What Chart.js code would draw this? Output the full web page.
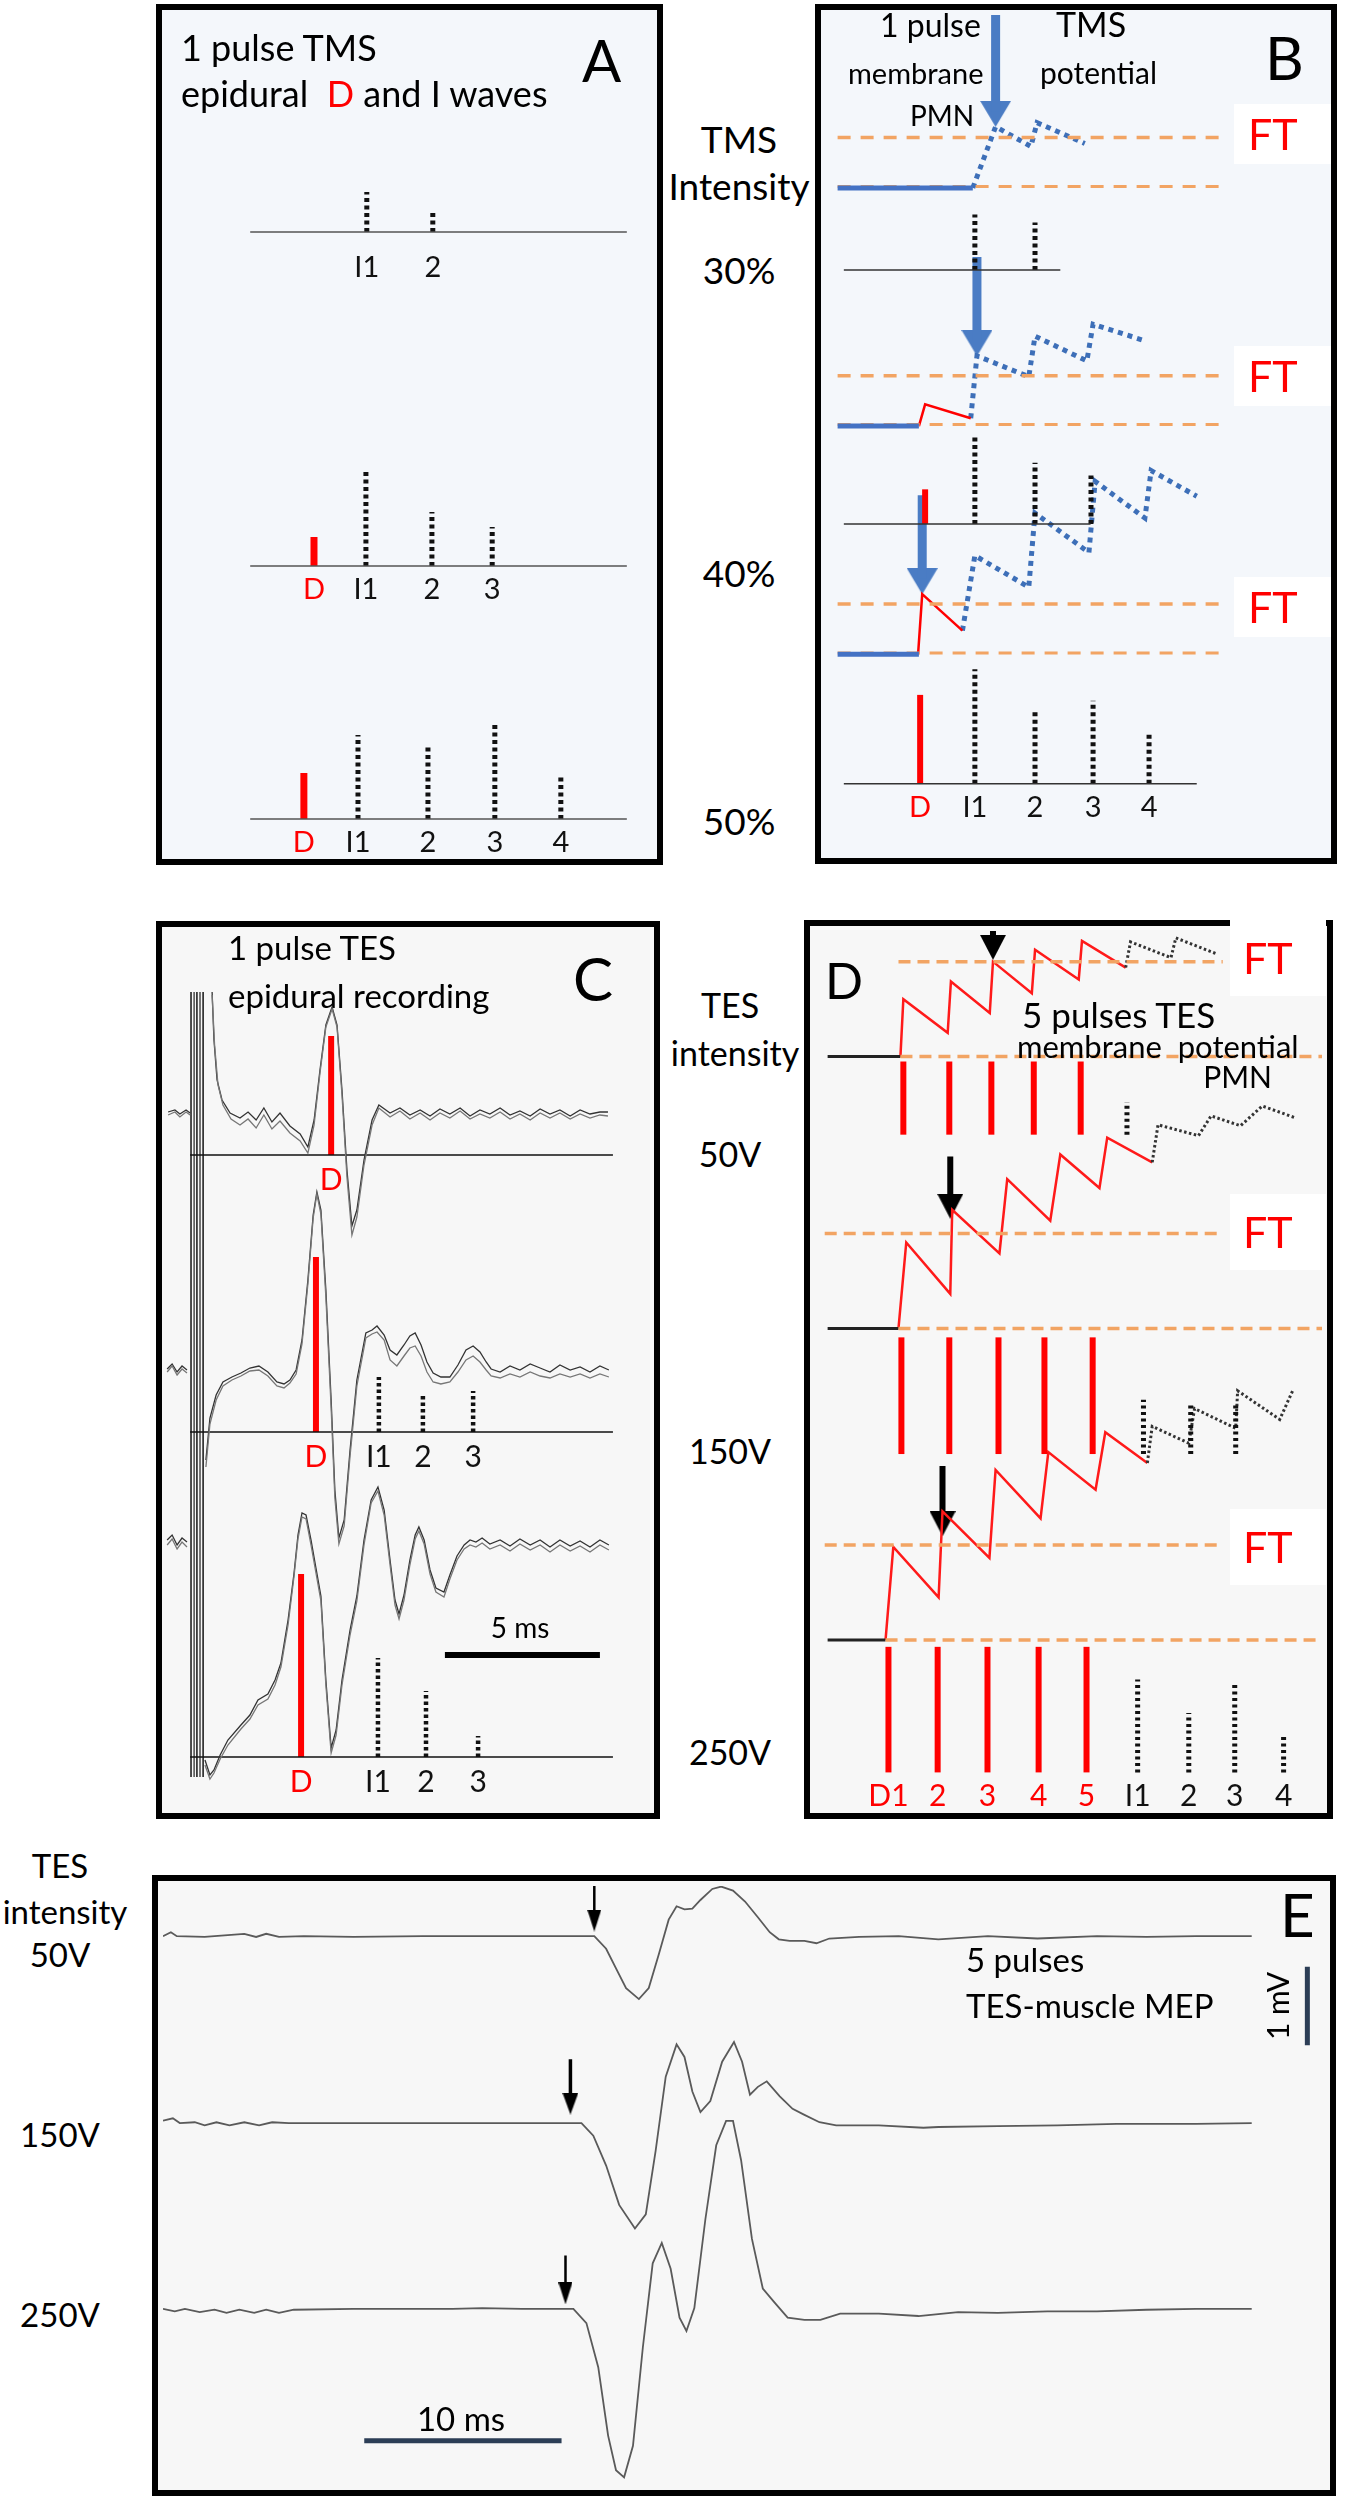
<!DOCTYPE html>
<html><head><meta charset="utf-8"><title>D and I waves - TMS / TES</title>
<script src="https://cdn.jsdelivr.net/npm/chart.js@4.4.1/dist/chart.umd.min.js"></script>
<style>
html,body{margin:0;padding:0;background:#fff;}
#fig{position:relative;width:1350px;height:2497px;overflow:hidden;font-family:Lato,"Open Sans",sans-serif;}
.box{position:absolute;border:6px solid #000;box-sizing:border-box;}
.t{position:absolute;white-space:nowrap;line-height:1;color:#000;}
#fig canvas{position:absolute;}
</style></head><body><div id="fig"></div>
<script>
// ---------- A : 1 pulse TMS, epidural D and I waves (latency ms, amplitude a.u.) ----------
const A_ROWS  = ['30%','40%','50%'];
const A_WAVES = [['I1','2'],['D','I1','2','3'],['D','I1','2','3','4']];
const A_LAT   = [[1.20,2.70],[0,1.18,2.68,4.05],[-0.23,1.00,2.59,4.11,5.61]];
const A_AMP   = [[40,21],[29,94,54,39],[46,84,72,94,44]];
const A_SWEEP = [-1.45,7.11];

// ---------- B : 1 pulse TMS, membrane potential of the PMN ----------
const B_LAT   = [[1.25,2.70],[0.05,1.25,2.70,4.05],[-0.07,1.25,2.70,4.10,5.45]];
const B_AMP   = [[56,48],[35,91,62,49],[90,116,73,84,52]];
const B_SWEEP = [[-1.91,3.31],[-1.91,4.04],[-1.91,6.60]];
const B_FT    = 51;                       // firing threshold above rest
const B_REST_END = [1.20,-0.1,-0.1];
const B_EPSP  = [null,[[-0.10,0],[0.05,22],[1.15,8]],[[-0.12,0],[-0.02,61],[0.95,24]]];
const B_DOT   = [[[1.20,0],[1.75,62],[2.60,42],[2.75,66],[3.9,45]],
                 [[1.15,8],[1.3,71],[2.55,50],[2.7,91],[3.95,66],[4.1,103],[5.3,87]],
                 [[0.95,24],[1.25,100],[2.55,68],[2.7,143],[4.0,103],[4.15,175],[5.35,138],[5.5,186],[6.6,160]]];
const B_ARROW = [[1.75,62],[1.3,71],[-0.02,61]];
const B_DASH  = [-2.06,7.14];

// ---------- C : 1 pulse TES, epidural recording (ms, uV a.u.) ----------
const C_ROWS = ['50V','150V','250V'];
const C_50A = [[-1.03,43],[-0.81,45],[-0.65,41],[-0.45,45],[-0.32,42],null,[0.39,163],[0.45,115],[0.55,75],[0.71,55],[0.97,42],[1.29,37],[1.55,43],[1.81,35],[2.06,47],[2.32,33],[2.58,42],[2.90,29],[3.23,21],[3.48,8],[3.68,35],[3.87,85],[4.06,130],[4.26,148],[4.42,130],[4.58,65],[4.74,-15],[4.90,-71],[5.06,-55],[5.29,-5],[5.55,35],[5.77,50],[6.13,42],[6.45,47],[6.77,40],[7.10,45],[7.42,39],[7.74,46],[8.06,41],[8.39,47],[8.71,39],[9.03,45],[9.35,41],[9.68,47],[10.0,40],[10.32,44],[10.65,39],[10.97,46],[11.29,41],[11.61,45],[11.94,39],[12.26,45],[12.58,41],[12.9,43],[13.16,43]];
const C_50B = [[-1.03,40],[-0.81,43],[-0.65,38],[-0.45,43],[-0.32,40],null,[0.39,160],[0.47,110],[0.58,70],[0.74,50],[1.0,36],[1.29,30],[1.55,36],[1.81,27],[2.06,40],[2.32,26],[2.58,34],[2.9,22],[3.23,14],[3.48,2],[3.68,30],[3.87,82],[4.06,128],[4.26,146],[4.42,128],[4.58,60],[4.74,-22],[4.9,-80],[5.06,-62],[5.29,-10],[5.55,30],[5.77,47],[6.13,38],[6.45,44],[6.77,36],[7.1,42],[7.42,35],[7.74,42],[8.06,37],[8.39,44],[8.71,36],[9.03,41],[9.35,37],[9.68,43],[10.0,36],[10.32,41],[10.65,35],[10.97,42],[11.29,37],[11.61,42],[11.94,36],[12.26,41],[12.58,37],[12.9,40],[13.16,39]];
const C_150A = [[-1.06,63],[-0.90,68],[-0.74,60],[-0.58,66],[-0.42,62],null,[0.19,-28],[0.32,14],[0.52,37],[0.74,50],[1.03,55],[1.32,59],[1.61,64],[1.90,66],[2.19,60],[2.48,50],[2.71,48],[2.90,52],[3.10,62],[3.29,92],[3.48,152],[3.65,217],[3.77,240],[3.90,222],[4.06,142],[4.23,32],[4.35,-58],[4.48,-106],[4.65,-88],[4.84,-18],[5.06,52],[5.35,99],[5.55,102],[5.71,106],[5.94,97],[6.13,82],[6.35,77],[6.58,87],[6.77,96],[6.94,99],[7.13,87],[7.32,70],[7.52,59],[7.77,55],[8.06,55],[8.32,67],[8.58,82],[8.81,86],[9.03,80],[9.23,70],[9.39,63],[9.68,60],[10.0,66],[10.32,62],[10.65,68],[10.97,64],[11.29,60],[11.61,67],[11.94,62],[12.26,65],[12.58,60],[12.9,66],[13.19,62]];
const C_150B = [[-1.06,60],[-0.9,66],[-0.74,57],[-0.58,63],[-0.42,59],null,[0.19,-35],[0.32,8],[0.52,32],[0.74,46],[1.03,52],[1.32,56],[1.61,61],[1.9,62],[2.19,56],[2.48,46],[2.71,44],[2.9,49],[3.1,58],[3.29,88],[3.48,148],[3.65,214],[3.77,238],[3.9,218],[4.06,135],[4.23,24],[4.35,-66],[4.48,-112],[4.65,-94],[4.84,-24],[5.06,46],[5.35,94],[5.55,98],[5.71,100],[5.94,92],[6.13,72],[6.35,66],[6.58,76],[6.77,84],[6.94,86],[7.13,76],[7.32,60],[7.52,50],[7.77,48],[8.06,50],[8.32,60],[8.58,72],[8.81,76],[9.03,70],[9.23,62],[9.39,56],[9.68,54],[10.0,58],[10.32,55],[10.65,60],[10.97,56],[11.29,54],[11.61,58],[11.94,55],[12.26,58],[12.58,54],[12.9,58],[13.19,55]];
const C_250A = [[-1.06,217],[-0.90,222],[-0.74,212],[-0.58,219],[-0.42,215],null,[0.16,-3],[0.32,-18],[0.45,-13],[0.65,2],[0.90,17],[1.32,32],[1.61,42],[1.87,57],[2.19,63],[2.42,77],[2.61,94],[2.84,137],[3.03,183],[3.16,222],[3.29,244],[3.42,242],[3.58,217],[3.74,189],[3.90,161],[4.06,77],[4.23,9],[4.39,27],[4.58,77],[4.84,127],[5.06,161],[5.29,217],[5.52,257],[5.74,270],[5.94,247],[6.13,197],[6.29,157],[6.42,143],[6.58,162],[6.77,197],[6.94,222],[7.06,230],[7.23,217],[7.42,187],[7.61,169],[7.87,165],[8.06,182],[8.29,201],[8.52,212],[8.71,217],[8.90,215],[9.10,219],[9.35,213],[9.68,217],[10.0,211],[10.32,218],[10.65,212],[10.97,217],[11.29,210],[11.61,217],[11.94,211],[12.26,216],[12.58,210],[12.9,217],[13.19,212]];
const C_250B = [[-1.06,212],[-0.9,218],[-0.74,208],[-0.58,215],[-0.42,210],null,[0.16,-8],[0.32,-22],[0.45,-16],[0.65,-2],[0.9,12],[1.32,28],[1.61,38],[1.87,52],[2.19,58],[2.42,72],[2.61,90],[2.84,132],[3.03,180],[3.16,218],[3.29,240],[3.42,238],[3.58,212],[3.74,184],[3.9,156],[4.06,72],[4.23,4],[4.39,22],[4.58,72],[4.84,122],[5.06,156],[5.29,212],[5.52,254],[5.74,266],[5.94,242],[6.13,192],[6.29,152],[6.42,138],[6.58,157],[6.77,192],[6.94,218],[7.06,226],[7.23,213],[7.42,183],[7.61,165],[7.87,160],[8.06,178],[8.29,197],[8.52,208],[8.71,212],[8.9,210],[9.1,214],[9.35,208],[9.68,212],[10.0,206],[10.32,213],[10.65,207],[10.97,212],[11.29,205],[11.61,212],[11.94,206],[12.26,211],[12.58,205],[12.9,212],[13.19,207]];
const C_ART_T = [-0.29,-0.19,-0.10,0.0,0.10];
const C_ART_V = [163,-20];                 // top (50V row) / bottom (250V row)
const C_WAVES = [['D'],['D','I1','2','3'],['D','I1','2','3']];
const C_LAT   = [[4.23],[3.74,5.77,7.19,8.81],[3.26,5.74,7.29,8.97]];
const C_AMP   = [[119],[175,55,38,41],[183,99,66,21]];
const C_SWEEP = [-0.32,13.32];
const C_SCALE = [7.9,12.9];                // 5 ms

// ---------- D : 5 pulses TES, membrane potential PMN ----------
const D_ROWS    = ['50V','150V','250V'];
const D_PULSE_T = [[2.73,4.15,5.45,6.76,8.21],[2.67,4.15,5.67,7.09,8.58],[2.27,3.79,5.33,6.91,8.39]];
const D_PULSE_A = [74,118,127];
const D_I_T     = [[9.64],[10.15,11.61,13.0],[9.97,11.55,12.97,14.48]];
const D_I_A     = [[33],[55,50,52],[94,60,92,39]];
const D_FT      = 96;
const D_RISE    = [2.64,2.58,2.18];
const D_VM = [
  [[2.64,0],[2.73,58],[4.10,24],[4.20,76],[5.40,44],[5.50,96],[6.70,64],[6.80,108],[8.15,78],[8.25,117],[9.60,90]],
  [[2.58,0],[2.82,87],[4.18,35],[4.24,120],[5.70,76],[5.94,151],[7.27,109],[7.58,176],[8.79,142],[9.03,193],[10.42,168]],
  [[2.18,0],[2.42,94],[3.82,43],[3.94,130],[5.39,83],[5.58,172],[6.97,123],[7.21,190],[8.67,152],[8.97,210],[10.27,179]]];
const D_VM_DOT = [
  [[9.60,90],[9.75,116],[11.0,100],[11.15,120],[12.4,104]],
  [[10.42,168],[10.6,206],[11.85,195],[12.24,215],[13.15,205],[13.82,225],[14.85,213]],
  [[10.27,179],[10.42,216],[11.55,199],[11.73,234],[13.0,214],[13.06,252],[14.36,223],[14.76,252]]];
const D_ARROW = [[5.50,135,98],[4.18,174,111],[3.94,176,105]];
const D_LABELS = ['D1','2','3','4','5'];

// ---------- E : 5 pulses TES, muscle MEP (ms, mV) ----------
const E_ROWS = ['50V','150V','250V'];
const E_50 = [[-0.1,0],[0.3,0.05],[0.6,0],[2.01,-0.01],[4.02,0.03],[4.62,-0.01],[5.13,0.03],[5.78,-0.01],[7.04,0],[9.55,-0.01],[13.07,0],[17.09,0],[21.76,0],[22.36,-0.16],[22.86,-0.41],[23.37,-0.66],[24.02,-0.80],[24.52,-0.66],[25.03,-0.23],[25.53,0.21],[25.93,0.38],[26.33,0.34],[26.73,0.35],[27.14,0.46],[27.74,0.60],[28.19,0.63],[28.79,0.58],[29.40,0.44],[30.05,0.24],[30.65,0.05],[31.11,-0.04],[31.66,-0.06],[32.41,-0.06],[33.02,-0.09],[33.67,-0.03],[35.18,-0.01],[37.19,0],[39.20,-0.04],[41.71,0],[44.22,-0.03],[47.24,0],[49.75,-0.01],[52.26,0],[55.08,0]];
const E_150 = [[-0.1,0.03],[0.4,0.06],[0.75,0],[1.51,0.01],[2.01,-0.03],[2.61,0.01],[3.27,-0.03],[4.02,0.01],[4.77,-0.03],[5.43,0.01],[6.28,0],[9.55,0],[14.57,0],[21.11,0],[21.71,-0.16],[22.36,-0.54],[23.02,-1.04],[23.82,-1.34],[24.37,-1.16],[24.87,-0.35],[25.38,0.59],[25.93,1.0],[26.33,0.84],[26.73,0.40],[27.14,0.14],[27.64,0.28],[28.24,0.78],[28.84,1.03],[29.25,0.78],[29.65,0.36],[30.05,0.46],[30.50,0.53],[31.16,0.34],[31.81,0.18],[32.36,0.11],[33.17,0.01],[34.02,-0.03],[36.18,-0.03],[38.44,-0.06],[39.20,-0.05],[42.21,-0.04],[45.23,-0.03],[48.24,-0.01],[52.26,-0.01],[55.08,0]];
const E_250 = [[-0.1,0],[0.5,-0.03],[1.01,0],[1.76,-0.04],[2.51,-0.01],[3.12,-0.05],[3.77,-0.01],[4.52,-0.05],[5.13,-0.01],[5.78,-0.05],[6.53,-0.01],[9.55,0],[14.57,0],[16.08,0.01],[18.09,0],[20.7,0],[21.36,-0.18],[21.96,-0.74],[22.46,-1.61],[22.86,-2.05],[23.27,-2.14],[23.72,-1.74],[24.22,-0.49],[24.72,0.58],[25.18,0.84],[25.63,0.51],[26.08,-0.11],[26.43,-0.28],[26.83,0.01],[27.39,1.14],[27.94,2.08],[28.44,2.39],[28.79,2.39],[29.20,1.89],[29.75,0.89],[30.30,0.26],[30.90,0.08],[31.56,-0.11],[32.41,-0.14],[33.22,-0.14],[34.22,-0.06],[36.18,-0.06],[38.19,-0.09],[40.20,-0.04],[42.21,-0.05],[44.72,-0.03],[47.24,-0.03],[49.75,-0.01],[52.26,0],[55.08,0]];
const E_ARROW = [[21.76,0.65,0.06],[20.55,0.81,0.11],[20.30,0.68,0.06]];
const E_SCALE_MS = [10.1,20.1];
const E_SCALE_T  = 57.9, E_SCALE_MV = 1;

// ---------- helpers ----------
const RED='#ff0000', BLUE='#4472c4', ORANGE='#f2a463', INK='#111';
const fig=document.getElementById('fig');
function box(x,y,w,h,bg,noBorder){const d=document.createElement('div');d.className='box';
  Object.assign(d.style,{left:x+'px',top:y+'px',width:w+'px',height:h+'px',background:bg});
  if(noBorder)d.style.border='none';fig.appendChild(d);return d;}
function txt(s,x,y,size,o={}){const d=document.createElement('div');d.className='t';d.innerHTML=s;
  d.style.fontSize=size+'px';d.style.left=x+'px';d.style.top=(y-0.887*size)+'px';
  if(o.color)d.style.color=o.color;
  if(o.align==='c')d.style.transform='translateX(-50%)';
  if(o.align==='r')d.style.transform='translateX(-100%)';
  fig.appendChild(d);return d;}
function mkPanel(L,T,W,H,x0,pxX,pxY){return {L,T,W,H,x0,pxX,pxY,ds:[],lab:[]};}
function val(p,pageY){return (p.T+p.H-pageY)/p.pxY;}
function addLine(p,pts,col,w,dash,extra){
  p.ds.push(Object.assign({data:pts.map(q=>q?{x:q[0],y:q[1]}:{x:NaN,y:NaN}),showLine:true,borderColor:col,
    backgroundColor:col,borderWidth:w,borderDash:dash||[],pointRadius:0,fill:false,tension:0,spanGaps:false},extra||{}));}
function head(w,h,col){const c=document.createElement('canvas');c.width=w;c.height=h;const g=c.getContext('2d');
  g.fillStyle=col;g.beginPath();g.moveTo(0,0);g.lineTo(w,0);g.lineTo(w/2,h);g.closePath();g.fill();return c;}
function addArrow(p,t,vTop,vTip,col,shaft,hw,hh){
  addLine(p,[[t,vTop],[t,vTip+hh*0.6/p.pxY]],col,shaft);
  p.ds.push({data:[{x:t,y:vTip+hh/2/p.pxY}],pointStyle:head(hw,hh,col),pointRadius:1,showLine:false});}
function render(p){
  const c=document.createElement('canvas');c.width=p.W;c.height=p.H;
  Object.assign(c.style,{left:p.L+'px',top:p.T+'px',width:p.W+'px',height:p.H+'px'});
  fig.appendChild(c);
  p.chart=new Chart(c,{type:'scatter',data:{datasets:p.ds},options:{responsive:false,animation:false,events:[],
    devicePixelRatio:1,layout:{padding:0},plugins:{legend:{display:false},tooltip:{enabled:false}},
    scales:{x:{type:'linear',display:false,min:p.x0,max:p.x0+p.W/p.pxX},
            y:{type:'linear',display:false,min:0,max:p.H/p.pxY}}}});
  const sx=p.chart.scales.x, sy=p.chart.scales.y;
  p.lab.forEach(([s,t,v,size,col,dy])=>txt(s,p.L+sx.getPixelForValue(t),p.T+sy.getPixelForValue(v)+dy,size,{align:'c',color:col}));
}

// ---------- frames ----------
box(156,4,507,861,'#f4f7fb');
box(815,4,522,860,'#f4f7fb');
box(156,921,504,898,'#f7f7f7');
box(804,920,529,899,'#f7f7f7');
box(152,1875,1184,621,'#f7f7f7');
// white patches behind the FT labels
[134,376,607].forEach(y=>box(1234,y-30,97,60,'#fff',true));
[958,1232,1547].forEach(y=>box(1230,y-38,96,76,'#fff',true));

// ---------- panel A ----------
const pA=mkPanel(162,10,496,849,-3.4545,44,1);
const A_BASE=[232,566,819], A_LABDY=[45,33,33];
A_ROWS.forEach((r,i)=>{
  const b=val(pA,A_BASE[i]);
  addLine(pA,[[A_SWEEP[0],b],[A_SWEEP[1],b]],'#555',1.5);
  A_LAT[i].forEach((t,j)=>{const isD=A_WAVES[i][j]==='D';
    addLine(pA,[[t,b],[t,b+A_AMP[i][j]]],isD?RED:INK,isD?7:5,isD?[]:[4,3.5]);
    pA.lab.push([A_WAVES[i][j],t,b,29,isD?RED:INK,A_LABDY[i]]);});
});
render(pA);

// ---------- panel B ----------
const pB=mkPanel(821,10,510,848,-2.34,42.3,1);
const B_REST=[185,426,657], B_BAR=[268,525,788];
[0,1,2].forEach(i=>{
  const r=val(pB,B_REST[i]), bb=val(pB,B_BAR[i]);
  addLine(pB,[[B_DASH[0],r+B_FT],[B_DASH[1],r+B_FT]],ORANGE,3.5,[13,10]);
  addLine(pB,[[B_DASH[0],r],[B_REST_END[i],r]],BLUE,5);
  addLine(pB,[[B_DASH[0],r+1.5],[B_DASH[1],r+1.5]],ORANGE,3,[13,10]);
  if(B_EPSP[i])addLine(pB,B_EPSP[i].map(([t,v])=>[t,r+v]),RED,2.5);
  addLine(pB,B_DOT[i].map(([t,v])=>[t,r+v]),'#3d6fb8',5,[5,5]);
  const [at,av]=B_ARROW[i];
  addArrow(pB,at,r+av+(i===0?160:100),r+av,'#4a7cc4',9,31,26);
  addLine(pB,[[B_SWEEP[i][0],bb],[B_SWEEP[i][1],bb]],'#333',1.5);
  B_LAT[i].forEach((t,j)=>{const isD=A_WAVES[i][j]==='D';
    addLine(pB,[[t,bb],[t,bb+B_AMP[i][j]]],isD?RED:INK,isD?6:5,isD?[]:[4,3.5]);
    if(i===2)pB.lab.push([A_WAVES[i][j],t,bb,29,isD?RED:INK,33]);});
});
render(pB);

// ---------- panel C ----------
const pC=mkPanel(163,928,490,882,-1.194,31,1);
const C_REF=[1155,1432,1757];
const C_TR=[[C_50A,C_50B],[C_150A,C_150B],[C_250A,C_250B]];
C_ROWS.forEach((r,i)=>{
  const b=val(pC,C_REF[i]);
  addLine(pC,C_TR[i][1].map(q=>q&&[q[0],b+q[1]]),'#777',1.3);
  addLine(pC,C_TR[i][0].map(q=>q&&[q[0],b+q[1]]),'#333',1.3);
  addLine(pC,[[C_SWEEP[0],b],[C_SWEEP[1],b]],'#111',1.3);
  C_LAT[i].forEach((t,j)=>{const isD=C_WAVES[i][j]==='D';
    addLine(pC,[[t,b],[t,b+C_AMP[i][j]]],isD?RED:INK,isD?6:4.5,isD?[]:[3.5,3]);
    pC.lab.push([C_WAVES[i][j],t,b,30,isD?RED:INK,35]);});
});
C_ART_T.forEach((t,k)=>addLine(pC,[[t,val(pC,C_REF[0])+C_ART_V[0]],[t,val(pC,C_REF[2])+C_ART_V[1]]],k%2?'#555':'#222',1.6));
addLine(pC,[[C_SCALE[0],val(pC,1655)],[C_SCALE[1],val(pC,1655)]],'#000',6);
render(pC);

// ---------- panel D ----------
const pD=mkPanel(810,926,517,887,0,33,1);
const D_REST=[1053,1328,1643], D_BAR_BOT=[-79,-127,-134], D_FT_START=[2.58,0.3,0.3];
D_ROWS.forEach((row,i)=>{
  const r=val(pD,D_REST[i]), bb=r+D_BAR_BOT[i];
  addLine(pD,[[D_FT_START[i],r+D_FT],[12.6,r+D_FT]],ORANGE,3.5,[12,7]);
  addLine(pD,[[D_RISE[i],r],[15.7,r]],ORANGE,3.5,[12,7]);
  addLine(pD,[[0.39,r],[D_RISE[i],r]],'#222',3);
  addLine(pD,D_VM_DOT[i].map(([t,v])=>[t,r+v]),'#333',3,[2.5,2.5]);
  addLine(pD,D_VM[i].map(([t,v])=>[t,r+v]),'#ff1a1a',2.5);
  const [at,atop,atip]=D_ARROW[i];
  addArrow(pD,at,r+atop,r+atip,'#000',6,26,25);
  D_PULSE_T[i].forEach((t,j)=>{addLine(pD,[[t,bb],[t,bb+D_PULSE_A[i]]],RED,6);
    if(i===2)pD.lab.push([D_LABELS[j],t,bb,30,RED,33]);});
  D_I_T[i].forEach((t,j)=>{addLine(pD,[[t,bb],[t,bb+D_I_A[i][j]]],INK,5,[3,3.5]);
    if(i===2)pD.lab.push([j?String(j+1):'I1',t,bb,30,INK,33]);});
});
render(pD);

// ---------- panel E ----------
const pE=mkPanel(158,1881,1172,609,-0.1,19.9,80);
const E_BASE=[1932,2122,2311], E_TR=[E_50,E_150,E_250];
E_ROWS.forEach((row,i)=>{
  const b=val(pE,E_BASE[i]);
  addLine(pE,E_TR[i].map(([t,v])=>[t,b+v]),'#5a5a5a',1.8);
  const [at,atop,atip]=E_ARROW[i];
  addArrow(pE,at,b+atop,b+atip,'#000',i===1?3.5:2.5,i===1?16:14,22);
});
addLine(pE,[[E_SCALE_MS[0],val(pE,2445)],[E_SCALE_MS[1],val(pE,2445)]],'#2c3e56',5);
addLine(pE,[[E_SCALE_T,val(pE,1963)],[E_SCALE_T,val(pE,1963)-E_SCALE_MV]],'#2c3e56',5);
render(pE);

// ---------- text ----------
txt('1 pulse TMS',181,61,36);
txt('epidural&nbsp; <span style="color:#f00">D</span> and I waves',181,107,36);
txt('A',582,82,58);
txt('TMS',739,153,37,{align:'c'});
txt('Intensity',739,200,37,{align:'c'});
A_ROWS.forEach((s,i)=>txt(s,739,[284,587,835][i],37,{align:'c'}));
txt('1 pulse',880,37,32);
txt('TMS',1056,37,34);
txt('membrane',848,84,29);
txt('potential',1040,84,30);
txt('PMN',910,126,28);
txt('B',1265,80,60);
[134,376,607].forEach(y=>txt('FT',1248,y+16,43,{color:RED}));
txt('1 pulse TES',228,960,33);
txt('epidural recording',228,1008,33);
txt('C',573,1001,60);
txt('5 ms',520,1638,28,{align:'c'});
txt('TES',730,1018,34,{align:'c'});
txt('intensity',735,1066,34,{align:'c'});
C_ROWS.forEach((s,i)=>txt(s,730,[1167,1464,1765][i],34,{align:'c'}));
txt('D',825,999,50);
txt('5 pulses TES',1022,1028,35);
txt('membrane&nbsp; potential',1017,1058,31);
txt('PMN',1272,1088,30,{align:'r'});
[958,1232,1547].forEach(y=>txt('FT',1243,y+16,43,{color:RED}));
txt('TES',60,1878,33,{align:'c'});
txt('intensity',65,1924,33,{align:'c'});
E_ROWS.forEach((s,i)=>txt(s,60,[1967,2147,2327][i],33,{align:'c'}));
txt('E',1280,1937,60);
txt('5 pulses',966,1972,33);
txt('TES-muscle MEP',966,2018,33);
txt('10 ms',461,2431,33,{align:'c'});
const mv=txt('1 mV',1262,2040,30);
mv.style.top='2040px';mv.style.transformOrigin='0 0';mv.style.transform='rotate(-90deg)';
</script></body></html>
